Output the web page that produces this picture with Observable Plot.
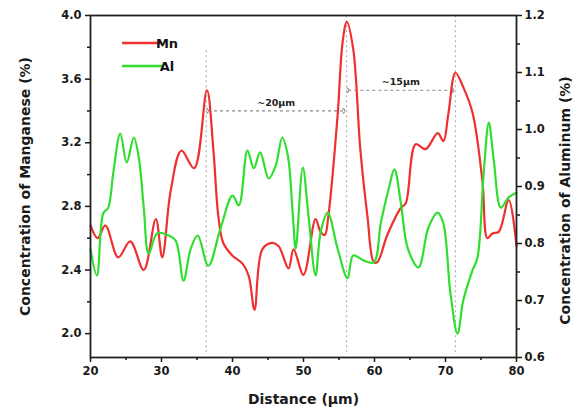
<!DOCTYPE html>
<html>
<head>
<meta charset="utf-8">
<script src="https://cdn.jsdelivr.net/npm/d3@7"></script>
<script src="https://cdn.jsdelivr.net/npm/@observablehq/plot@0.6"></script>
<style>
  body { margin: 0; background: #fff; }
  #chart { width: 579px; height: 415px; }
</style>
</head>
<body>
<div id="chart"></div>
<script>
// Line-scan profile: manganese (left axis) and aluminum (right axis) along distance
const distanceMn = [20.0, 21.0, 22.1, 23.9, 25.6, 27.5, 29.2, 30.1, 31.3, 32.8, 34.6, 36.4, 37.3, 38.0, 38.7, 40.0, 41.4, 42.3, 43.1, 44.2, 45.6, 46.5, 47.9, 48.6, 50.0, 51.7, 52.4, 53.0, 53.5, 54.8, 55.5, 56.1, 57.0, 58.0, 59.0, 59.9, 60.4, 61.8, 63.7, 64.4, 65.8, 67.2, 68.9, 69.7, 70.4, 71.4, 72.5, 73.8, 75.2, 75.9, 76.6, 77.5, 78.9, 80.0];
const manganese = [2.68, 2.60, 2.68, 2.48, 2.58, 2.40, 2.72, 2.48, 2.90, 3.15, 3.04, 3.53, 3.16, 2.74, 2.57, 2.49, 2.44, 2.36, 2.15, 2.53, 2.57, 2.55, 2.41, 2.53, 2.37, 2.72, 2.64, 2.62, 2.74, 3.37, 3.83, 3.96, 3.79, 3.16, 2.74, 2.45, 2.45, 2.62, 2.79, 2.82, 3.19, 3.16, 3.26, 3.21, 3.38, 3.64, 3.55, 3.39, 2.96, 2.60, 2.63, 2.64, 2.84, 2.55];

const distanceAl = [20.0, 20.9, 21.8, 22.5, 23.2, 24.2, 25.1, 26.1, 26.8, 27.5, 28.2, 29.4, 31.0, 32.0, 33.1, 34.1, 35.1, 36.6, 38.3, 40.0, 40.9, 42.1, 43.0, 43.9, 45.1, 46.1, 47.0, 47.8, 48.5, 48.9, 49.9, 50.7, 51.7, 52.4, 53.4, 54.8, 56.2, 57.0, 58.5, 59.9, 60.9, 62.0, 62.8, 63.7, 64.7, 66.2, 67.6, 68.9, 69.7, 70.7, 71.7, 72.5, 73.8, 74.5, 75.4, 76.1, 76.8, 77.8, 78.9, 80.0];
const aluminum = [0.790, 0.744, 0.853, 0.863, 0.923, 0.993, 0.942, 0.986, 0.951, 0.863, 0.782, 0.818, 0.814, 0.805, 0.735, 0.790, 0.814, 0.761, 0.826, 0.884, 0.867, 0.963, 0.932, 0.960, 0.914, 0.937, 0.986, 0.954, 0.849, 0.791, 0.933, 0.849, 0.744, 0.819, 0.854, 0.791, 0.739, 0.779, 0.770, 0.767, 0.837, 0.896, 0.930, 0.872, 0.791, 0.758, 0.828, 0.854, 0.835, 0.712, 0.642, 0.700, 0.753, 0.775, 0.928, 1.012, 0.946, 0.863, 0.881, 0.889];

// Axis ranges and ticks
const mnDomain = [1.85, 4.0];
const alDomain = [0.6, 1.2];
const mnTicks = [2.0, 2.4, 2.8, 3.2, 3.6, 4.0];
const mnMinorTicks = [2.2, 2.6, 3.0, 3.4, 3.8];
const alTicks = [0.6, 0.7, 0.8, 0.9, 1.0, 1.1, 1.2];
const alMinorTicks = [0.65, 0.75, 0.85, 0.95, 1.05, 1.15];
const xTicks = [20, 30, 40, 50, 60, 70, 80];
const xMinorTicks = [25, 35, 45, 55, 65, 75];

// Mn peak positions and the spacing between them
const peakDistances = [36.3, 56.06, 71.4];
const peakLineTops = [3.79, 4.0, 4.0];
const spacingLabels = ["~20μm", "~15μm"];
const spacingLevels = [3.40, 3.53];

const seriesNames = ["Mn", "Al"];
const seriesColors = ["#ee3030", "#2fde2f"];

// Aluminum values are drawn on the manganese scale and relabelled on the right
const alToMn = a => mnDomain[0] + (a - alDomain[0]) * (mnDomain[1] - mnDomain[0]) / (alDomain[1] - alDomain[0]);
const mnToAl = v => alDomain[0] + (v - mnDomain[0]) * (alDomain[1] - alDomain[0]) / (mnDomain[1] - mnDomain[0]);

const mnData = distanceMn.map((d, i) => ({distance: d, value: manganese[i]}));
const alData = distanceAl.map((d, i) => ({distance: d, value: alToMn(aluminum[i])}));
const peaks = peakDistances.map((d, i) => ({distance: d, top: peakLineTops[i]}));
const spacings = spacingLabels.map((label, i) => ({
  label,
  from: peakDistances[i] + 0.25,
  to: peakDistances[i + 1] - 0.3,
  level: spacingLevels[i]
}));

const chart = Plot.plot({
  width: 579,
  height: 415,
  marginLeft: 90,
  marginRight: 63,
  marginTop: 15,
  marginBottom: 58,
  style: {fontFamily: "DejaVu Sans", fontWeight: "bold", fontSize: "11.5px", color: "#1a1a1a", background: "#fff"},
  x: {domain: [20, 80]},
  y: {domain: mnDomain},
  marks: [
    Plot.ruleX(peaks, {x: "distance", y1: 1.88, y2: "top", stroke: "#b0b0b0", strokeWidth: 1.2, strokeDasharray: "2,3"}),
    Plot.link(spacings, {x1: "from", x2: "to", y1: "level", y2: "level", stroke: "#8a8a8a", strokeWidth: 1.2, strokeDasharray: "3,3", markerStart: "arrow", markerEnd: "arrow"}),
    Plot.text(spacings, {x: d => (d.from + d.to) / 2, y: "level", dy: -8, text: "label", fontSize: 9.5, fill: "#222"}),
    Plot.line(mnData, {x: "distance", y: "value", stroke: seriesColors[0], strokeWidth: 2.2, curve: "catmull-rom"}),
    Plot.line(alData, {x: "distance", y: "value", stroke: seriesColors[1], strokeWidth: 2.2, curve: "catmull-rom"}),
    Plot.frame({stroke: "#222", strokeWidth: 1.8}),
    Plot.axisX(xTicks, {anchor: "bottom", tickSize: 5, tickPadding: 4, strokeWidth: 1.5, label: null}),
    Plot.axisX(xMinorTicks, {anchor: "bottom", tickSize: 3, tickFormat: () => "", strokeWidth: 1.5, label: null}),
    Plot.axisY(mnTicks, {anchor: "left", tickSize: 5, tickPadding: 4, strokeWidth: 1.5, tickFormat: d => d.toFixed(1), label: null}),
    Plot.axisY(mnMinorTicks, {anchor: "left", tickSize: 3, tickFormat: () => "", strokeWidth: 1.5, label: null}),
    Plot.axisY(alTicks.map(alToMn), {anchor: "right", tickSize: 5, tickPadding: 3, strokeWidth: 1.5, tickFormat: v => mnToAl(v).toFixed(1), label: null}),
    Plot.axisY(alMinorTicks.map(alToMn), {anchor: "right", tickSize: 3, tickFormat: () => "", strokeWidth: 1.5, label: null}),
    Plot.text(["Distance (μm)"], {frameAnchor: "bottom", dy: 46, fontSize: 14, fill: "#1a1a1a"}),
    Plot.text(["Concentration of Manganese (%)"], {frameAnchor: "left", textAnchor: "middle", dx: -65, rotate: -90, fontSize: 14, fill: "#1a1a1a"}),
    Plot.text(["Concentration of Aluminum (%)"], {frameAnchor: "right", textAnchor: "middle", dx: 49, dy: 14, rotate: -90, fontSize: 14, fill: "#1a1a1a"})
  ]
});

// Series legend in the upper-left corner of the frame
const svg = d3.select(chart);
const legend = svg.append("g").attr("font-family", "DejaVu Sans").attr("font-weight", "bold").attr("font-size", 13);
seriesNames.forEach((name, i) => {
  const y = 43 + i * 23;
  legend.append("line").attr("x1", 122).attr("x2", 162).attr("y1", y).attr("y2", y)
    .attr("stroke", seriesColors[i]).attr("stroke-width", 2.4);
  legend.append("text").attr("x", 167).attr("y", y).attr("dy", "0.35em").attr("fill", "#111").text(name);
});

document.getElementById("chart").appendChild(chart);
</script>
</body>
</html>
